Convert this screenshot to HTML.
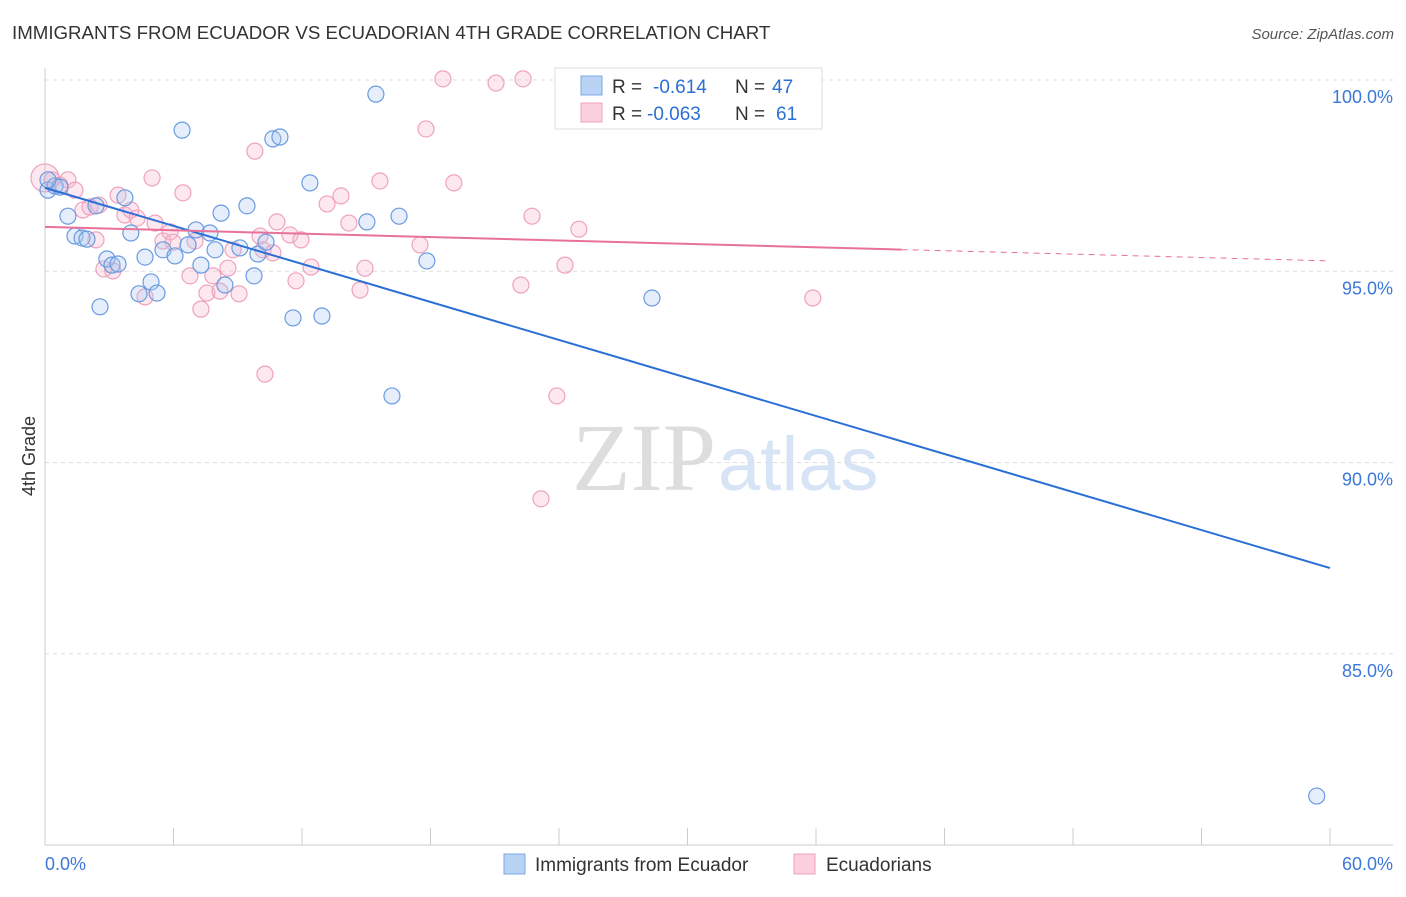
<!DOCTYPE html>
<html><head><meta charset="utf-8"><style>
body{margin:0;background:#fff;font-family:"Liberation Sans",sans-serif}
</style></head><body>
<svg id="c" width="1406" height="892" xmlns="http://www.w3.org/2000/svg">
<text x="12" y="39" font-size="18.7" fill="#333">IMMIGRANTS FROM ECUADOR VS ECUADORIAN 4TH GRADE CORRELATION CHART</text>
<text x="1394" y="39" font-size="15" fill="#555" font-style="italic" text-anchor="end">Source: ZipAtlas.com</text>
<text x="716" y="490" font-size="96" fill="#ddd" font-family="Liberation Serif,serif" text-anchor="end">ZIP</text>
<text x="718" y="490" font-size="76" fill="#d6e4f5">atlas</text>
<text x="35" y="456" font-size="18" fill="#333" transform="rotate(-90 35 456)" text-anchor="middle">4th Grade</text>
<g id="grid"></g><g id="marks"></g>
<g>
<rect x="555" y="68" width="267" height="61" fill="#fff" stroke="#ddd"/>
<rect x="581" y="76" width="21" height="19" fill="#b9d3f5" stroke="#7aa8e6"/>
<rect x="581" y="103" width="21" height="19" fill="#fbcfdd" stroke="#f0a0bb"/>
<text x="612" y="93" font-size="19" fill="#333">R =</text>
<text x="653" y="93" font-size="19" fill="#2a6fd6">-0.614</text>
<text x="735" y="93" font-size="19" fill="#333">N =</text>
<text x="772" y="93" font-size="19" fill="#2a6fd6">47</text>
<text x="612" y="120" font-size="19" fill="#333">R =</text>
<text x="647" y="120" font-size="19" fill="#2a6fd6">-0.063</text>
<text x="735" y="120" font-size="19" fill="#333">N =</text>
<text x="776" y="120" font-size="19" fill="#2a6fd6">61</text>
</g>
<g>
<rect x="504" y="854" width="21" height="20" fill="#b9d3f5" stroke="#7aa8e6"/>
<text x="535" y="871" font-size="19" fill="#333">Immigrants from Ecuador</text>
<rect x="794" y="854" width="21" height="20" fill="#fbcfdd" stroke="#f0a0bb"/>
<text x="826" y="871" font-size="19" fill="#333">Ecuadorians</text>
</g>
</svg>
<script>
const blueX=[0.14,0.47,0.70,1.07,1.40,1.73,1.96,2.38,2.57,2.89,3.13,3.41,3.73,4.01,4.39,4.67,4.95,5.23,5.51,6.07,6.40,6.68,7.05,7.28,7.70,7.94,8.22,8.40,9.10,9.43,9.76,9.94,10.32,10.64,10.97,11.58,12.37,12.93,15.03,15.45,16.20,16.53,17.83,28.34,59.38,0.14];
const blueY=[97.12,97.23,97.20,96.44,95.92,95.87,95.84,96.71,94.07,95.32,95.16,95.19,96.92,96.00,94.41,95.37,94.72,94.43,95.56,95.40,98.69,95.69,96.08,95.16,96.00,95.56,96.52,94.64,95.61,96.71,94.88,95.45,95.76,98.46,98.51,93.78,97.31,93.83,96.29,99.63,91.74,96.44,95.27,94.30,81.28,97.39];
const pinkX=[0,0.33,0.70,1.07,1.40,1.77,2.10,2.38,2.52,2.75,3.17,3.41,3.73,4.01,4.30,4.67,5.00,5.14,5.51,5.84,5.98,6.44,6.77,7.00,7.28,7.56,7.84,8.17,8.54,8.78,9.06,9.80,10.04,10.27,10.18,10.64,10.83,11.44,11.72,11.95,12.42,13.17,13.82,14.19,14.71,14.94,15.64,17.51,17.79,18.58,19.09,21.06,22.32,22.22,22.74,23.16,23.90,24.28,24.93,35.85];
const pinkY=[97.44,97.39,97.25,97.39,97.12,96.60,96.68,95.82,96.73,95.06,95.01,96.99,96.47,96.60,96.39,94.33,97.44,96.26,95.79,96.03,95.76,97.05,94.88,95.79,94.01,94.43,94.88,94.48,95.08,95.56,94.41,98.14,95.92,92.31,95.56,95.48,96.29,95.95,94.75,95.82,95.11,96.76,96.97,96.26,94.51,95.08,97.36,95.69,98.72,100.03,97.31,99.92,100.03,94.64,96.44,89.05,91.74,95.16,96.10,94.30];
const blueTrend=[97.18,87.24];
const pinkTrend=[96.16,95.27];
const yTicks=[100,95,90,85];
const xTicks=[0,6,12,18,24,30,36,42,48,54,60];
const X=v=>45+v/60*1285, Y=v=>80+(100-v)*38.25;
const NS="http://www.w3.org/2000/svg";
const grid=document.getElementById('grid'), marks=document.getElementById('marks');
function mk(p,tag,a){const e=document.createElementNS(NS,tag);for(const k in a)e.setAttribute(k,a[k]);p.appendChild(e);return e;}
yTicks.forEach(t=>{
 const l=mk(grid,'line',{x1:45,x2:1393,y1:Y(t),y2:Y(t),stroke:'#ddd','stroke-dasharray':'4,4'});
 
 
 const tx=mk(grid,'text',{x:1393,y:Y(t)+23,'font-size':18,fill:'#3b78d8','text-anchor':'end'});
 tx.textContent=t.toFixed(1)+'%';
 
 
});
mk(grid,'line',{x1:45,x2:45,y1:68,y2:845,stroke:'#ccc'});
mk(grid,'line',{x1:45,x2:1393,y1:845,y2:845,stroke:'#ccc'});
xTicks.forEach(t=>{const l=mk(grid,'line',{x1:X(t),x2:X(t),y1:828,y2:845,stroke:'#ccc'});
 
 });
[[0,'0.0%','start',45],[60,'60.0%','end',1393]].forEach(d=>{const t=mk(grid,'text',{x:d[3],y:870,'font-size':18,fill:'#3b78d8','text-anchor':d[2]});t.textContent=d[1];
 
 });
pinkX.forEach((x,i)=>{const c=mk(marks,'circle',{cx:X(x),cy:Y(pinkY[i]),r:i==0?14:8,fill:'rgba(248,180,205,0.3)',stroke:'#eea2bd','stroke-width':1.2});
 
 });
blueX.forEach((x,i)=>{const c=mk(marks,'circle',{cx:X(x),cy:Y(blueY[i]),r:8,fill:'rgba(170,200,240,0.3)',stroke:'#6a9be0','stroke-width':1.2});
 
 });
const bl=mk(marks,'line',{x1:X(0),y1:Y(blueTrend[0]),x2:X(60),y2:Y(blueTrend[1]),stroke:'#2a6fd6','stroke-width':2});


const pm=pinkTrend[0]+(pinkTrend[1]-pinkTrend[0])*40/60;
const pl=mk(marks,'line',{x1:X(0),y1:Y(pinkTrend[0]),x2:X(40),y2:Y(pm),stroke:'#e8719b','stroke-width':2});


const pd=mk(marks,'line',{x1:X(40),y1:Y(pm),x2:X(60),y2:Y(pinkTrend[1]),stroke:'#e8719b','stroke-width':1,'stroke-dasharray':'6,5'});


</script>
</body></html>
